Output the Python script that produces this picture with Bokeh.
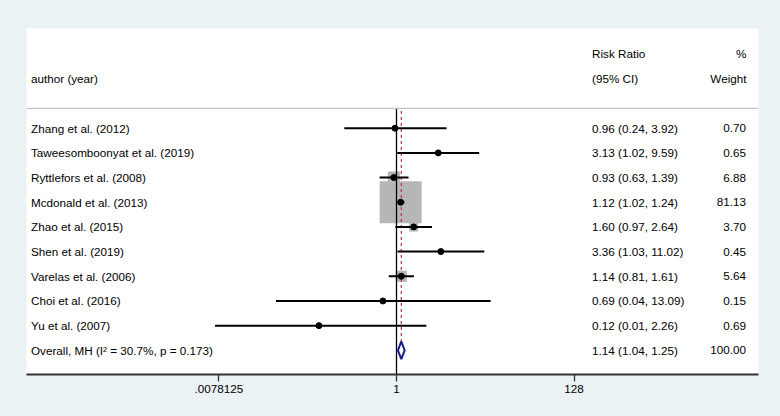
import numpy as np
from bokeh.plotting import figure
from bokeh.models import Range1d, FixedTicker, Span
from bokeh.embed import file_html
from bokeh.resources import INLINE
from bokeh.core.properties import value

# ---------------- data ----------------
authors = ["Zhang et al. (2012)", "Taweesomboonyat et al. (2019)", "Ryttlefors et al. (2008)",
           "Mcdonald et al. (2013)", "Zhao et al. (2015)", "Shen et al. (2019)",
           "Varelas et al. (2006)", "Choi et al. (2016)", "Yu et al. (2007)"]
rr = [0.96, 3.13, 0.93, 1.12, 1.60, 3.36, 1.14, 0.69, 0.12]
lo = [0.24, 1.02, 0.63, 1.02, 0.97, 1.03, 0.81, 0.037, 0.007]
hi = [3.92, 9.59, 1.39, 1.24, 2.64, 11.02, 1.61, 13.09, 2.26]
weight = [0.70, 0.65, 6.88, 81.13, 3.70, 0.45, 5.64, 0.15, 0.69]

overall_label = "Overall, MH (I\u00b2 = 30.7%, p = 0.173)"
overall_rr, overall_lo, overall_hi, overall_w = 1.14, 1.04, 1.25, 100.00

x_ticks = [0.0078125, 1, 128]
x_tick_labels = [".0078125", "1", "128"]
header_left = "author (year)"
header_ci = ["Risk Ratio", "(95% CI)"]
header_w = ["%", "Weight"]

# ---------------- style / layout ----------------
BG = "#eaf2f4"
FONT = "Liberation Sans"
FS = "11.7px"
W, H = 780, 416
FL, FR, FT, FB = 26, 22, 28, 42
frame_w = W - FL - FR
PPU = 25.36            # pixels per doubling on the log2 axis
ONE_PAGE_X = 396       # page x of RR = 1
one_off = ONE_PAGE_X - FL

x_range = Range1d(2 ** (-one_off / PPU), 2 ** ((frame_w - one_off) / PPU))
y_range = Range1d(-9.98, 4.04)


def xpx(page_x):
    return 2 ** ((page_x - ONE_PAGE_X) / PPU)


n = len(authors)
rows = [-float(i) for i in range(n)]
y_overall = -float(n)
sizes = [42 * np.sqrt(w / max(weight)) for w in weight]

p = figure(width=W, height=H, x_axis_type="log", x_range=x_range, y_range=y_range,
           output_backend="svg", toolbar_location=None, y_axis_location=None,
           min_border_left=FL, min_border_right=FR, min_border_top=FT, min_border_bottom=FB)
p.border_fill_color = BG
p.background_fill_color = "white"
p.outline_line_color = None
p.grid.visible = False

# header separator
p.add_layout(Span(location=0.8, dimension="width", line_color="#c4c4c4", line_width=1.2))

# weight boxes
p.scatter(x=rr, y=rows, size=sizes, marker="square", fill_color="#b6b6b6",
          line_color=None)

# null line
p.segment(x0=[1], y0=[0.8], x1=[1], y1=[-10.5], line_color="black", line_width=1.3)
# overall dashed line
p.segment(x0=[overall_rr], y0=[0.7], x1=[overall_rr], y1=[y_overall + 0.3],
          line_color="#b03848", line_width=1.2, line_dash="3 3")

# CIs and point estimates
p.segment(x0=lo, y0=rows, x1=hi, y1=rows, line_color="black", line_width=2)
p.scatter(x=rr, y=rows, size=6, marker="circle", fill_color="black", line_color="black")

# overall diamond
dh = 0.36
p.patch(x=[overall_lo, overall_rr, overall_hi, overall_rr],
        y=[y_overall, y_overall + dh, y_overall, y_overall - dh],
        fill_color="white", line_color="#1c1c8c", line_width=2)

# texts
tkw = dict(text_font=value(FONT), text_font_size=FS, text_color="black",
           text_baseline="middle")
p.text(x=[xpx(30.5)] * (n + 1), y=rows + [y_overall], text=authors + [overall_label],
       text_align="left", **tkw)
ci_txt = [f"{r:.2f} ({a:.2f}, {b:.2f})" for r, a, b in zip(rr, lo, hi)]
ci_txt.append(f"{overall_rr:.2f} ({overall_lo:.2f}, {overall_hi:.2f})")
p.text(x=[xpx(591.5)] * (n + 1), y=rows + [y_overall], text=ci_txt, text_align="left", **tkw)
w_txt = [f"{w:.2f}" for w in weight] + [f"{overall_w:.2f}"]
p.text(x=[xpx(745.5)] * (n + 1), y=rows + [y_overall], text=w_txt, text_align="right", **tkw)

p.text(x=[xpx(30.5)], y=[2.0], text=[header_left], text_align="left", **tkw)
p.text(x=[xpx(591.5)] * 2, y=[3.03, 2.0], text=header_ci, text_align="left", **tkw)
p.text(x=[xpx(746)] * 2, y=[3.03, 2.0], text=header_w, text_align="right", **tkw)

# x axis
ax = p.xaxis[0]
ax.ticker = FixedTicker(ticks=x_ticks)
ax.major_label_overrides = {t: l for t, l in zip(x_ticks, x_tick_labels)}
ax.axis_line_width = 2
ax.axis_line_color = "#333333"
ax.major_tick_line_color = "#333333"
ax.major_tick_line_width = 1.3
ax.major_tick_out = 7
ax.major_tick_in = 0
ax.minor_tick_line_color = None
ax.major_label_standoff = 3
ax.major_label_text_font = FONT
ax.major_label_text_font_size = FS
ax.major_label_text_color = "black"

html = file_html(p, INLINE)
html = html.replace("</head>", f"<style>body{{background:{BG};}}</style></head>", 1)
open("out.html", "w").write(html)
